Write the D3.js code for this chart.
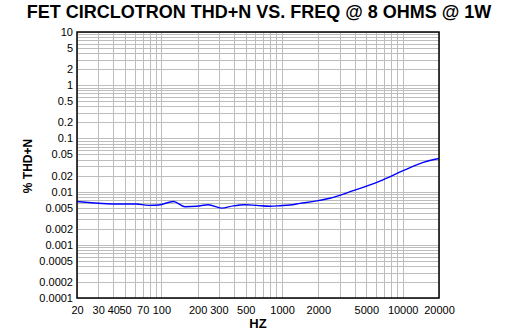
<!DOCTYPE html>
<html>
<head>
<meta charset="utf-8">
<script src="https://cdn.jsdelivr.net/npm/d3@7"></script>
<style>
  html, body { margin: 0; padding: 0; background: #fff; }
  svg { display: block; }
  text { font-family: "Liberation Sans", Arial, sans-serif; }
</style>
</head>
<body>
<svg id="chart" width="513" height="330"></svg>
<script>
// Measured THD+N (%) against frequency (Hz)
const freqs = [20, 40, 62, 78, 95, 126, 157, 196, 245, 316, 394, 493, 617, 795, 962, 1164, 1409, 1937, 2496, 3891, 6470, 10100, 14800, 20000];
const thdn  = [0.0065, 0.00585, 0.00585, 0.00552, 0.0056, 0.0065, 0.0052, 0.0053, 0.00567, 0.0049, 0.0054, 0.00567, 0.0055, 0.0053, 0.00543, 0.0056, 0.006, 0.0067, 0.0075, 0.0104, 0.0158, 0.0247, 0.0355, 0.042];

const xTickLabels = [20, 30, 40, 50, 70, 100, 200, 300, 500, 1000, 2000, 5000, 10000, 20000];
const yTickLabels = ["10", "5", "2", "1", "0.5", "0.2", "0.1", "0.05", "0.02", "0.01", "0.005", "0.002", "0.001", "0.0005", "0.0002", "0.0001"];

const titleText = "FET CIRCLOTRON THD+N VS. FREQ @ 8 OHMS @ 1W";
const xTitle = "HZ";
const yTitle = "% THD+N";

const svg = d3.select("#chart");
const m = { left: 77, right: 439, top: 32, bottom: 298 };

const x = d3.scaleLog().domain([20, 20000]).range([m.left, m.right]);
const y = d3.scaleLog().domain([0.0001, 10]).range([m.bottom, m.top]);

// grid lines at 1..9 of every decade
const xGrid = [];
[10, 100, 1000, 10000].forEach(d => { for (let k = 1; k <= 9; k++) { const v = d * k; if (v >= 20 && v <= 20000) xGrid.push(v); } });
xGrid.push(20000);
const yGrid = [];
[0.0001, 0.001, 0.01, 0.1, 1].forEach(d => { for (let k = 1; k <= 9; k++) yGrid.push(d * k); });
yGrid.push(10);

const grid = svg.append("g").attr("stroke", "#bdbdbd").attr("stroke-width", 1);
grid.selectAll("line.v").data(xGrid).join("line")
  .attr("x1", d => Math.round(x(d)) + 0.5).attr("x2", d => Math.round(x(d)) + 0.5)
  .attr("y1", m.top).attr("y2", m.bottom);
grid.selectAll("line.h").data(yGrid).join("line")
  .attr("y1", d => Math.round(y(d)) + 0.5).attr("y2", d => Math.round(y(d)) + 0.5)
  .attr("x1", m.left).attr("x2", m.right);

// data curve
const line = d3.line().x((d, i) => x(freqs[i])).y(d => y(d)).curve(d3.curveMonotoneX);
svg.append("path").datum(thdn)
  .attr("d", line)
  .attr("fill", "none")
  .attr("stroke", "#0000ff")
  .attr("stroke-width", 1.4);

// frame
svg.append("rect")
  .attr("x", m.left).attr("y", m.top)
  .attr("width", m.right - m.left).attr("height", m.bottom - m.top)
  .attr("fill", "none").attr("stroke", "#000").attr("stroke-width", 1.5);

// axes (labels only)
const xAxis = d3.axisBottom(x).tickValues(xTickLabels).tickFormat(d3.format("d")).tickSize(0).tickPadding(0);
svg.append("g").attr("transform", `translate(0,${m.bottom + 8})`).call(xAxis)
  .call(g => g.select(".domain").remove())
  .selectAll("text").attr("font-size", 11).attr("fill", "#000")
  .attr("font-family", "Liberation Sans, Arial, sans-serif");

const yAxis = d3.axisLeft(y).tickValues(yTickLabels.map(Number)).tickFormat((d, i) => yTickLabels[i]).tickSize(0).tickPadding(4);
svg.append("g").attr("transform", `translate(${m.left},0)`).call(yAxis)
  .call(g => g.select(".domain").remove())
  .selectAll("text").attr("font-size", 11).attr("fill", "#000")
  .attr("font-family", "Liberation Sans, Arial, sans-serif");

// titles
svg.append("text").attr("x", 259).attr("y", 18).attr("text-anchor", "middle")
  .attr("font-size", 18).attr("font-weight", "bold").text(titleText);
svg.append("text").attr("x", 258).attr("y", 328).attr("text-anchor", "middle")
  .attr("font-size", 13).attr("font-weight", "bold").text(xTitle);
svg.append("text").attr("transform", "translate(32,166) rotate(-90)").attr("text-anchor", "middle")
  .attr("font-size", 12).attr("font-weight", "bold").text(yTitle);
</script>
</body>
</html>
